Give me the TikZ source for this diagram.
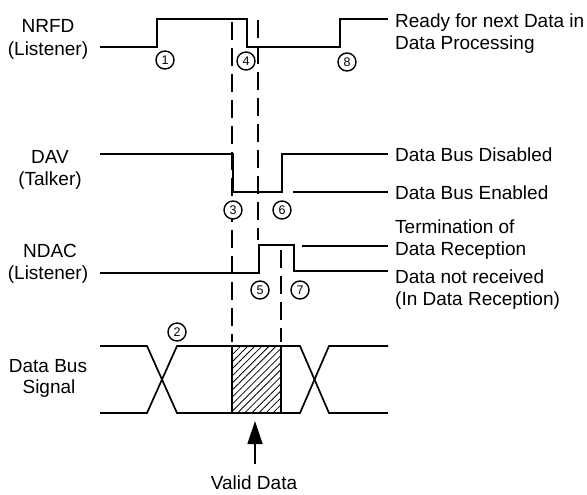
\documentclass[tikz,border=0pt]{standalone}
\usepackage{fontspec}
\setmainfont{Liberation Sans}
\usetikzlibrary{patterns.meta,arrows.meta}
\begin{document}
\begin{tikzpicture}[x=1pt,y=-1pt,
  sig/.style={line width=1.7pt, line join=miter},
  refline/.style={line width=1.5pt},
  guide/.style={line width=1.3pt, dash pattern=on 18pt off 8pt},
  lbl/.style={font=\fontsize{19}{22}\selectfont, inner sep=0pt, anchor=base},
  rlbl/.style={lbl, anchor=base west},
  num/.style={circle, draw, fill=white, line width=1.4pt, minimum size=18pt, inner sep=0pt, font=\fontsize{12.5}{12.5}\selectfont}]
\useasboundingbox (0,0) rectangle (587,495);

% left labels
\node[lbl] (nrfd) at (48,33) {NRFD};
\node[lbl] (nrfdl) at (48,56) {(Listener)};
\node[lbl] (dav) at (50,163) {DAV};
\node[lbl] (davt) at (50,185) {(Talker)};
\node[lbl] (ndac) at (50,257) {NDAC};
\node[lbl] (ndacl) at (48,279) {(Listener)};
\node[lbl] (dbus) at (48,372) {Data Bus};
\node[lbl] (dsig) at (49,393) {Signal};

% right labels
\node[rlbl] (ready) at (395,28) {Ready for next Data in};
\node[rlbl] (proc) at (395,50) {Data Processing};
\node[rlbl] (dis) at (395,161) {Data Bus Disabled};
\node[rlbl] (ena) at (395,199) {Data Bus Enabled};
\node[rlbl] (term) at (395,233) {Termination of};
\node[rlbl] (recp) at (395,255) {Data Reception};
\node[rlbl] (notr) at (395,283) {Data not received};
\node[rlbl] (inrc) at (395,305) {(In Data Reception)};
\node[lbl] (valid) at (254,489) {Valid Data};

% guide lines
\draw[guide] (232,22) -- (232,342);
\draw[guide] (258,20) -- (258,240);
\draw[guide] (281,250) -- (281,342);

% NRFD
\draw[sig] (100,47) -- (157,47) -- (157,19) -- (247,19) -- (247,47) -- (340,47) -- (340,19) -- (388,19);
% DAV
\draw[sig] (100,154) -- (233,154) -- (233,192) -- (282,192) -- (282,154) -- (388,154);
\draw[refline] (293,192) -- (388,192);
% NDAC
\draw[sig] (100,273) -- (259,273) -- (259,245) -- (294,245) -- (294,271) -- (388,271);
\draw[refline] (302,246) -- (388,246);

% data bus
\draw[sig] (100,346) -- (147,346) -- (177,413) -- (232,413);
\draw[sig] (100,413) -- (147,413) -- (177,346) -- (232,346);
\draw[sig, pattern={Lines[angle=45, distance=5pt, line width=0.8pt]}] (232,346) rectangle (281,413);
\draw[sig] (281,346) -- (300,346) -- (329,413) -- (388,413);
\draw[sig] (281,413) -- (300,413) -- (329,346) -- (388,346);

% arrow
\coordinate (atail) at (255,464);
\coordinate (atip) at (255,421);
\draw[line width=1.5pt, -{Triangle[length=23pt, width=15pt]}] (atail) -- (atip);

% numbered markers
\node[num] (c1) at (165,60) {1};
\node[num] (c2) at (177,332) {2};
\node[num] (c3) at (233,210) {3};
\node[num] (c4) at (246,61) {4};
\node[num] (c5) at (260,290) {5};
\node[num] (c6) at (282,210) {6};
\node[num] (c7) at (300,290) {7};
\node[num] (c8) at (347,62) {8};
\end{tikzpicture}
\end{document}
